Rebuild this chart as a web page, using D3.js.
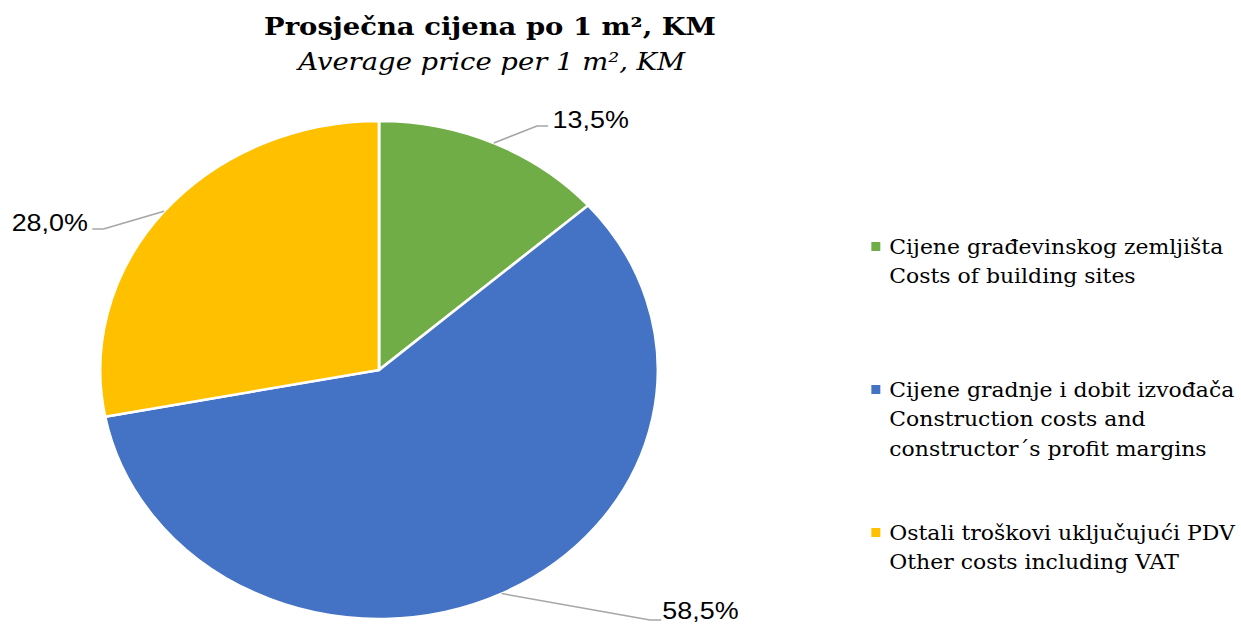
<!DOCTYPE html>
<html>
<head>
<meta charset="utf-8">
<script src="https://cdn.jsdelivr.net/npm/d3@7"></script>
<style>
  body { margin: 0; background: #fff; }
  svg { display: block; }
</style>
</head>
<body>
<svg id="chart"></svg>
<script>
// data
const categories = ["Cijene građevinskog zemljišta", "Cijene gradnje i dobit izvođača", "Ostali troškovi uključujući PDV"];
const legendLines = [
    ["Cijene građevinskog zemljišta", "Costs of building sites"],
    ["Cijene gradnje i dobit izvođača", "Construction costs and", "constructor´s profit margins"],
    ["Ostali troškovi uključujući PDV", "Other costs including VAT"]
];
const shares = [13.5, 58.5, 28.0];
const labels = ["13,5%", "58,5%", "28,0%"];
const colors = ["#70AD47", "#4472C4", "#FFC000"];

const width = 1241;
const height = 624;
const stretch = 1.12; // the original picture is wider than tall

const svg = d3.select("#chart")
    .attr("width", width)
    .attr("height", height);

const root = svg.append("g")
    .attr("transform", `scale(${stretch},1)`);

// title
root.append("text")
    .attr("x", 437.5)
    .attr("y", 35)
    .attr("text-anchor", "middle")
    .style("font-family", "DejaVu Serif")
    .style("font-weight", "bold")
    .style("font-size", "24.5px")
    .text("Prosječna cijena po 1 m², KM");

root.append("text")
    .attr("x", 439)
    .attr("y", 70)
    .attr("text-anchor", "middle")
    .style("font-family", "DejaVu Serif")
    .style("font-style", "italic")
    .style("font-size", "24.5px")
    .text("Average price per 1 m², KM");

// pie
const cx = 338.4, cy = 370, r = 249;
const pie = d3.pie().sort(null).value(d => d);
const arcs = pie(shares);
const arc = d3.arc().innerRadius(0).outerRadius(r);

const g = root.append("g").attr("transform", `translate(${cx},${cy})`);

g.selectAll("path")
    .data(arcs)
    .enter()
    .append("path")
    .attr("d", arc)
    .attr("fill", (d, i) => colors[i])
    .attr("stroke", "#fff")
    .attr("stroke-width", 2.5)
    .attr("stroke-linejoin", "round");

// leader lines: start on the rim at mid angle, elbow, short horizontal
const elbows = [[141, -244, 1, 14], [242, 250, 1, 11], [-246, -141, -1, 14]];

arcs.forEach((d, i) => {
    const a = (d.startAngle + d.endAngle) / 2;
    const sx = r * Math.sin(a), sy = -r * Math.cos(a);
    const [ex, ey, dir, gap] = elbows[i];
    g.append("polyline")
        .attr("points", `${sx},${sy} ${ex},${ey} ${ex + dir * 10},${ey}`)
        .attr("fill", "none")
        .attr("stroke", "#A6A6A6")
        .attr("stroke-width", 1.5);
    g.append("text")
        .attr("x", ex + dir * gap)
        .attr("y", ey - (i === 1 ? 9 : 6))
        .attr("dy", "0.35em")
        .attr("text-anchor", dir > 0 ? "start" : "end")
        .style("font-family", "Liberation Sans")
        .style("font-size", "24px")
        .attr("fill", "#000")
        .text(labels[i]);
});

// legend
const legend = root.append("g").attr("transform", "translate(778,247)");
const item = legend.selectAll("g")
    .data(legendLines)
    .enter()
    .append("g")
    .attr("transform", (d, i) => `translate(0,${i * 143})`);

item.append("rect")
    .attr("x", 0)
    .attr("y", -5)
    .attr("width", 8)
    .attr("height", 9)
    .attr("fill", (d, i) => colors[i]);

item.each(function(d) {
    const t = d3.select(this).append("text")
        .style("font-family", "DejaVu Serif")
        .style("font-size", "19.6px")
        .attr("fill", "#000");
    d.forEach((line, j) => {
        t.append("tspan")
            .attr("x", 16)
            .attr("y", j * 29.5)
            .attr("dy", "0.35em")
            .text(line);
    });
});
</script>
</body>
</html>
